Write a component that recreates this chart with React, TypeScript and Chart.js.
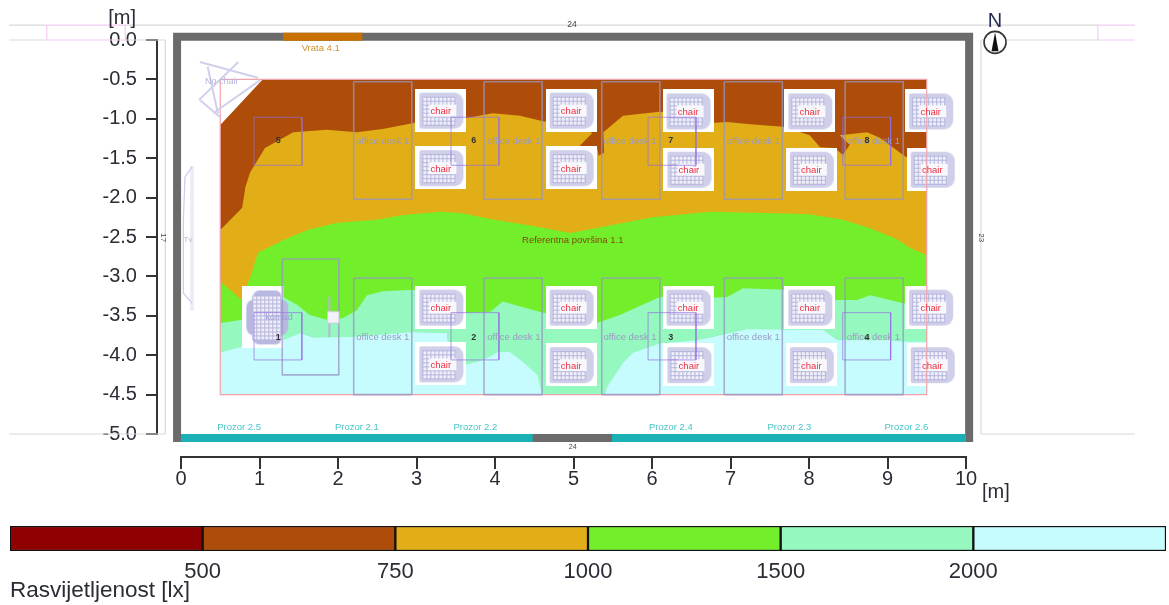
import React, { useEffect, useRef } from "react";
import { Chart, registerables } from "chart.js";

Chart.register(...registerables);

type Pt = [number, number];

// Illuminance contour polygons (metres)
const zone500to750: Pt[] = [[0.5, -1.08], [1.04, -0.5], [9.5, -0.5], [9.5, -4.5], [0.5, -4.5]];
const zone750to1000: Pt[] = [
  [0.5, -2.41], [0.78, -2.13], [0.82, -1.87], [0.88, -1.68], [1.07, -1.37], [1.43, -1.17], [1.86, -1.14],
  [2.24, -1.17], [2.57, -1.13], [2.98, -1.05], [3.26, -1.02], [3.64, -0.99], [3.97, -0.93], [4.32, -0.96],
  [4.61, -1.03], [5.02, -1.09], [5.24, -1.18], [5.07, -1.35], [5.3, -1.36], [5.32, -1.47], [5.39, -1.43],
  [5.38, -1.17], [5.63, -0.96], [6.1, -0.91], [6.48, -0.93], [6.8, -1.05], [6.96, -1.04], [7.25, -1.07],
  [7.67, -1.1], [8.01, -1.21], [8.14, -1.36], [8.33, -1.37], [8.43, -1.46], [8.52, -1.33], [8.39, -1.21],
  [8.74, -1.17], [8.9, -1.24], [9.2, -1.46], [9.29, -1.52], [9.5, -1.59], [9.5, -4.5], [0.5, -4.5],
];
const zone1000to1500: Pt[] = [
  [0.5, -3.06], [0.66, -3.2], [0.76, -3.29], [0.88, -3.02], [0.98, -2.7], [1.3, -2.54], [1.61, -2.41],
  [1.99, -2.32], [2.5, -2.28], [2.83, -2.22], [3.3, -2.18], [3.59, -2.2], [3.94, -2.27], [4.54, -2.37],
  [4.96, -2.45], [5.38, -2.37], [6.01, -2.25], [6.74, -2.18], [7.59, -2.2], [8.01, -2.21], [8.43, -2.28],
  [8.78, -2.39], [9.12, -2.53], [9.29, -2.64], [9.5, -2.73], [9.5, -4.5], [0.5, -4.5],
];
const zone1500to2000: Pt[] = [
  [0.5, -3.59], [0.78, -3.55], [1.3, -3.26], [1.48, -3.36], [1.64, -3.49], [1.86, -3.55], [2.06, -3.53],
  [2.24, -3.43], [2.37, -3.24], [2.57, -3.19], [2.96, -3.17], [3.3, -3.3], [3.64, -3.46], [3.94, -3.45],
  [4.1, -3.32], [4.36, -3.39], [4.61, -3.46], [5.3, -3.59], [5.59, -3.49], [6.1, -3.26], [6.78, -3.27],
  [6.96, -3.26], [7.16, -3.15], [7.67, -3.17], [8.36, -3.3], [8.61, -3.3], [8.78, -3.24], [9.2, -3.34],
  [9.5, -3.34], [9.5, -4.5], [0.5, -4.5],
];
const zoneAbove2000: Pt[] = [
  [0.5, -3.97], [0.71, -3.91], [1.3, -3.81], [1.52, -3.72], [1.68, -3.78], [2.19, -3.77], [2.92, -3.71],
  [3.39, -3.72], [3.39, -3.81], [3.64, -4.12], [3.85, -4.06], [4.04, -3.96], [4.19, -3.96], [4.36, -4.09],
  [4.54, -4.25], [4.6, -4.5], [5.4, -4.5], [5.43, -4.4], [5.63, -4.1], [5.76, -3.97], [6.1, -3.85],
  [6.57, -3.81], [6.78, -3.77], [7.21, -3.67], [7.92, -3.68], [8.18, -3.68], [8.36, -3.81], [8.61, -3.81],
  [8.99, -3.81], [9.2, -3.83], [9.5, -3.83], [9.5, -4.5], [0.5, -4.5],
];

// Room
const roomWall: Pt[] = [[-0.05, 0.04], [10.04, 0.04], [10.04, -5.05], [-0.05, -5.05], [-0.05, 0.04], [10.04, 0.04]];
const doorSpan: Pt[] = [[1.3, 0.04], [2.31, 0.04]];
const windowSpanA: Pt[] = [[0, -5.05], [4.48, -5.05]];
const windowSpanB: Pt[] = [[5.49, -5.05], [10, -5.05]];
const workPlane: Pt[] = [[0.5, -0.5], [9.5, -0.5], [9.5, -4.5], [0.5, -4.5], [0.5, -0.5]];

// Dimension lines
const greyLines: Pt[][] = [
  [[-2.19, 0.19], [-1.71, 0.19]], [[-0.71, 0.19], [11.68, 0.19]], [[-2.19, 0], [-1.71, 0]], [[-0.71, 0], [-0.2, 0]],
  [[10.19, 0], [11.68, 0]], [[-2.19, -5], [-0.2, -5]], [[10.19, -5], [12.15, -5]],
  [[-0.2, 0], [-0.2, -5]], [[10.19, 0], [10.19, -5]],
];
const pinkLines: Pt[][] = [
  [[-1.71, 0.19], [-0.71, 0.19]], [[-1.71, 0], [-0.71, 0]], [[-1.71, 0.19], [-1.71, 0]], [[-0.71, 0.19], [-0.71, 0]],
  [[11.68, 0.19], [12.15, 0.19]], [[11.68, 0], [12.15, 0]], [[11.68, 0.19], [11.68, 0]],
];

// Furniture
const deskLeft = [2.2, 3.86, 5.36, 6.92, 8.46];
const deskTextX = [2.57, 4.24, 5.72, 7.29, 8.82];
const deskTopRows = [[-0.53, -2.02], [-3.02, -4.5]];
const extraDesk: Pt[] = [[1.29, -2.78], [2.01, -2.78], [2.01, -4.25], [1.29, -4.25], [1.29, -2.78]];
const chairs: Pt[] = [
  [3.31, -0.89], [3.31, -1.62], [4.97, -0.89], [4.97, -1.62], [6.46, -0.9], [6.47, -1.64], [8.01, -0.9], [8.03, -1.64],
  [9.55, -0.9], [9.57, -1.64], [3.31, -3.39], [3.31, -4.11], [4.97, -3.39], [4.97, -4.12], [6.46, -3.39], [6.47, -4.12],
  [8.01, -3.39], [8.03, -4.12], [9.55, -3.39], [9.57, -4.12],
];
const sofaCentre: Pt[] = [[1.08, -3.52]];
const smallItem: Pt[] = [[1.94, -3.52]];
const smallItemStem: Pt[] = [[1.89, -3.26], [1.89, -3.77]];
const cornerItem: Pt[][] = [
  [[0.23, -0.76], [0.73, -0.28]], [[0.41, -0.93], [1.01, -0.51]], [[0.24, -0.28], [0.98, -0.48]],
  [[0.24, -0.76], [0.5, -0.98]], [[0.34, -0.34], [0.47, -0.93]],
];
const wallItemBand: Pt[] = [[0.14, -1.6], [0.14, -3.44]];
const wallItemOutline: Pt[] = [[0.14, -1.61], [0.05, -1.74], [0.03, -2.3], [0.03, -3.21], [0.14, -3.34]];

// Luminaires
const lumLeft = [0.93, 3.44, 5.95, 8.43];
const lumRows = [[-0.98, -1.59], [-3.46, -4.06]];
const lumTextX = [1.24, 3.73, 6.24, 8.74];
const lumTextTop = ["5", "6", "7", "8"];
const lumTextBottom = ["1", "2", "3", "4"];
const compassCentre: Pt = [10.37, -0.03];

// Labels
const windowNames = ["Prozor 2.5", "Prozor 2.1", "Prozor 2.2", "Prozor 2.4", "Prozor 2.3", "Prozor 2.6"];
const windowNameX = [0.74, 2.24, 3.75, 6.24, 7.75, 9.24];
const legendLevels = ["500", "750", "1000", "1500", "2000"];
const legendColors = ["#8f0000", "#ad4d09", "#e2ae17", "#73ee2b", "#95f8bf", "#c6fcfe"];

const SANS = '"Liberation Sans", Arial, sans-serif';
const INK = "#2a2d35";

function toData(p: Pt[]) {
  return p.map(([x, y]) => ({ x, y }));
}
function box(x0: number, x1: number, y0: number, y1: number): Pt[] {
  return [[x0, y0], [x1, y0], [x1, y1], [x0, y1], [x0, y0]];
}
function makeCanvas(w: number, h: number, draw: (c: CanvasRenderingContext2D) => void) {
  const cv = document.createElement("canvas");
  cv.width = w;
  cv.height = h;
  draw(cv.getContext("2d") as CanvasRenderingContext2D);
  return cv;
}
function hatch(c: CanvasRenderingContext2D, x: number, y: number, w: number, h: number, step: number) {
  c.strokeStyle = "rgba(176,176,220,0.9)";
  c.lineWidth = 1;
  for (let i = x; i <= x + w; i += step) {
    c.beginPath(); c.moveTo(i + 0.5, y); c.lineTo(i + 0.5, y + h); c.stroke();
  }
  for (let j = y; j <= y + h; j += step) {
    c.beginPath(); c.moveTo(x, j + 0.5); c.lineTo(x + w, j + 0.5); c.stroke();
  }
}
function chairSprite() {
  return makeCanvas(51, 43, (c) => {
    c.fillStyle = "#fff";
    c.fillRect(0, 0, 51, 43);
    c.fillStyle = "#cfcfea";
    c.beginPath();
    c.roundRect(4, 4, 44, 36, [2, 9, 9, 2]);
    c.fill();
    c.fillStyle = "#f0f0f9";
    c.fillRect(7, 8, 33, 28);
    hatch(c, 7, 8, 33, 28, 4);
    c.fillStyle = "#f7f7fc";
    c.fillRect(14, 16, 27, 12);
  });
}
function sofaSprite() {
  return makeCanvas(47, 62, (c) => {
    c.fillStyle = "#fff";
    c.fillRect(0, 0, 41, 62);
    c.fillStyle = "#b9b9e0";
    c.beginPath();
    c.roundRect(4, 13, 42, 36, 8);
    c.fill();
    c.beginPath();
    c.roundRect(11, 4, 28, 54, 6);
    c.fill();
    c.fillStyle = "#eeeef8";
    c.fillRect(10, 9, 28, 44);
    hatch(c, 10, 9, 28, 44, 4);
  });
}
function drawCompass(c: CanvasRenderingContext2D, px: number, py: number) {
  c.save();
  c.fillStyle = "#fff";
  c.strokeStyle = "#333";
  c.lineWidth = 1.6;
  c.beginPath();
  c.arc(px, py, 11, 0, Math.PI * 2);
  c.fill();
  c.stroke();
  c.fillStyle = "#111";
  c.beginPath();
  c.moveTo(px, py - 10);
  c.lineTo(px + 3.5, py + 9);
  c.lineTo(px - 3.5, py + 9);
  c.closePath();
  c.fill();
  c.restore();
}

function App() {
  const mainRef = useRef<HTMLCanvasElement>(null);
  const barRef = useRef<HTMLCanvasElement>(null);

  useEffect(() => {
    const poly = (p: Pt[], color: string) => ({
      data: toData(p), showLine: true, fill: "shape", backgroundColor: color, borderWidth: 0, pointRadius: 0, tension: 0,
    });
    const line = (p: Pt[], color: string, width: number, extra: any = {}) => ({
      data: toData(p), showLine: true, fill: false, borderColor: color, borderWidth: width, pointRadius: 0,
      clip: false, borderJoinStyle: "miter", borderCapStyle: "butt", ...extra,
    });
    const sprite = (p: Pt[], img: HTMLCanvasElement) => ({
      data: toData(p), showLine: false, pointStyle: img, pointRadius: 10, clip: false,
    });

    const layers: any[] = [
      ...greyLines.map((l) => line(l, "#d9d9d9", 1.2)),
      ...pinkLines.map((l) => line(l, "#f6c9f2", 1.2)),
      poly(zone500to750, legendColors[1]),
      poly(zone750to1000, legendColors[2]),
      poly(zone1000to1500, legendColors[3]),
      poly(zone1500to2000, legendColors[4]),
      poly(zoneAbove2000, legendColors[5]),
      sprite(chairs, chairSprite()),
      sprite(sofaCentre, sofaSprite()),
      line(workPlane, "#f2a3aa", 1.2),
      ...deskTopRows.flatMap(([t, b]) =>
        deskLeft.map((x) => line(box(x, x + 0.74, t, b), "rgba(150,150,195,0.75)", 1.6, { borderJoinStyle: "round" }))),
      line(extraDesk, "rgba(150,150,195,0.75)", 1.6, { borderJoinStyle: "round" }),
      ...lumRows.flatMap(([t, b]) =>
        lumLeft.map((x) => line(box(x, x + 0.61, t, b), "rgba(150,110,225,0.7)", 1))),
      line(smallItemStem, "#b4b4dc", 2),
      {
        data: toData(smallItem), showLine: false, pointStyle: "rect", pointRadius: 8,
        backgroundColor: "#f2f2f8", borderColor: "#d0d0e8", borderWidth: 1,
      },
      ...cornerItem.map((l) => line(l, "#d0d0ec", 2)),
      line(wallItemBand, "#eeedf7", 4),
      line(wallItemOutline, "#cbcbef", 1.2),
      line(roomWall, "#6b6b6b", 8),
      line(doorSpan, "#c76f00", 8),
      line(windowSpanA, "#1bb0b5", 8),
      line(windowSpanB, "#1bb0b5", 8),
    ];
    layers.forEach((d, i) => { d.order = layers.length - i; });

    const notes = {
      id: "notes",
      afterLayout(chart: any) {
        // the y axis stands clear of the room, to the left of the plot
        const gap = chart.scales.x.getPixelForValue(0) - chart.scales.x.getPixelForValue(-0.306);
        chart.scales.y.right -= gap;
        chart.scales.y.left = 0;
      },
      afterDatasetsDraw(chart: any) {
        const { ctx, scales } = chart;
        const put = (t: string, x: number, y: number, color: string, size: number, rot = 0, bold = false) => {
          ctx.save();
          ctx.translate(scales.x.getPixelForValue(x), scales.y.getPixelForValue(y));
          if (rot) ctx.rotate(rot);
          ctx.font = `${bold ? "bold " : ""}${size}px ${SANS}`;
          ctx.fillStyle = color;
          ctx.textAlign = "center";
          ctx.textBaseline = "middle";
          ctx.fillText(t, 0, 0);
          ctx.restore();
        };
        chairs.forEach(([x, y]) => put("chair", x, y - 0.02, "#ee2f3f", 9.5));
        deskTopRows.forEach((_r, r) =>
          deskTextX.forEach((x) => put("office desk 1", x, r === 0 ? -1.29 : -3.77, "#9a9ac0", 9.5)));
        lumTextX.forEach((x, i) => {
          put(lumTextTop[i], x, -1.28, "#333", 9, 0, true);
          put(lumTextBottom[i], x, -3.77, "#333", 9, 0, true);
        });
        windowNames.forEach((t, i) => put(t, windowNameX[i], -4.92, "#45c4c6", 9.5));
        put("Vrata 4.1", 1.78, -0.11, "#d0902c", 9.5);
        put("Referentna površina 1.1", 4.99, -2.54, "#7e4a10", 9.5);
        put("No chair", 0.52, -0.53, "#b4b4de", 9);
        put("komad", 1.25, -3.52, "#9d9dd8", 9);
        put("Tv", 0.09, -2.54, "#b4b4de", 8);
        put("24", 4.98, 0.19, "#444", 8.5);
        put("24", 4.99, -5.17, "#444", 7);
        put("23", 10.19, -2.51, "#444", 8, Math.PI / 2);
        put("17", -0.23, -2.51, "#444", 8, Math.PI / 2);
        put("[m]", -0.75, 0.27, INK, 20);
        put("[m]", 10.38, -5.74, INK, 20);
        drawCompass(ctx, scales.x.getPixelForValue(compassCentre[0]), scales.y.getPixelForValue(compassCentre[1]));
        put("N", 10.37, 0.23, "#1f2a55", 20);
      },
    };

    const axisCommon = {
      grid: { drawOnChartArea: false, drawTicks: true, tickLength: 11, color: "#333", lineWidth: 2 },
      border: { display: true, color: "#333", width: 2 },
    };
    const main = new Chart(mainRef.current as HTMLCanvasElement, {
      type: "scatter",
      data: { datasets: layers },
      options: {
        responsive: false,
        animation: false,
        layout: { padding: { left: 181, right: 203, top: 40, bottom: 81 } },
        plugins: { legend: { display: false }, tooltip: { enabled: false } },
        scales: {
          x: {
            type: "linear", min: 0, max: 10, position: { y: -5.29 } as any, ...axisCommon,
            ticks: { stepSize: 1, color: INK, font: { family: SANS, size: 20 }, padding: 0, maxRotation: 0, autoSkip: false },
          },
          y: {
            type: "linear", min: -5, max: 0, position: "left", ...axisCommon,
            afterFit: (s: any) => { s.width = 0; },
            ticks: {
              stepSize: 0.5, color: INK, font: { family: SANS, size: 20 }, padding: 9, autoSkip: false,
              callback: (v: any) => Number(v).toFixed(1),
            },
          },
        },
      } as any,
      plugins: [notes] as any,
    });

    const bar = new Chart(barRef.current as HTMLCanvasElement, {
      type: "bar",
      data: {
        labels: ["lx"],
        datasets: legendColors.map((c) => ({
          data: [1], backgroundColor: c, borderColor: "#111", borderWidth: 1.5, borderSkipped: false,
          categoryPercentage: 1, barPercentage: 1,
        })),
      },
      options: {
        indexAxis: "y",
        responsive: false,
        animation: false,
        layout: { padding: { left: 10, right: 3, top: 11, bottom: 0 } },
        plugins: { legend: { display: false }, tooltip: { enabled: false } },
        scales: {
          y: { stacked: true, display: false },
          x: {
            stacked: true, min: 0, max: legendColors.length,
            afterFit: (s: any) => { s.height = 54; s.paddingRight = 3; s.paddingLeft = 10; },
            grid: { display: false, drawTicks: false },
            border: { display: false },
            ticks: {
              stepSize: 1, color: INK, font: { family: SANS, size: 22 }, padding: 8, maxRotation: 0, autoSkip: false,
              callback: (v: any) => legendLevels[Number(v) - 1] ?? "",
            },
            title: {
              display: true, text: "Rasvijetljenost [lx]", align: "start", color: INK,
              font: { family: SANS, size: 22.5 }, padding: { top: 0, bottom: 1 },
            },
          },
        },
      } as any,
    });

    return () => { main.destroy(); bar.destroy(); };
  }, []);

  const soft: React.CSSProperties = { position: "absolute", left: 0, filter: "blur(0.45px)" };
  return (
    <div style={{ position: "absolute", left: 0, top: 0, width: 1169, height: 605, overflow: "hidden", background: "#fff" }}>
      <canvas ref={mainRef} width={1169} height={515} style={{ ...soft, top: 0 }} />
      <canvas ref={barRef} width={1169} height={90} style={{ ...soft, top: 515 }} />
    </div>
  );
}

export default App;
